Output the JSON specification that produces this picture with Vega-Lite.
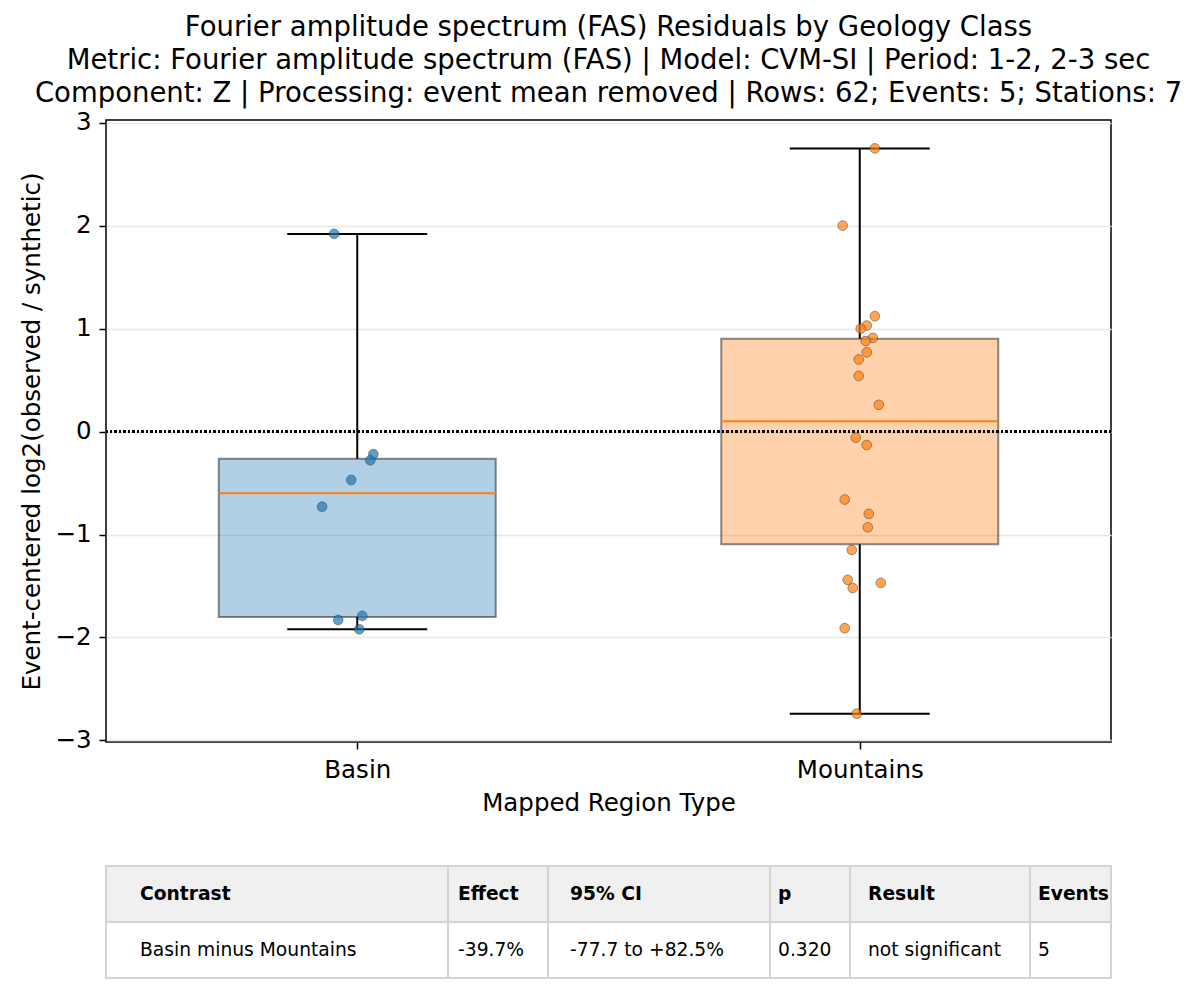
{
  "$schema": "https://vega.github.io/schema/vega-lite/v6.json",
  "background": "white",
  "padding": {"left": 19, "top": 13, "right": 0, "bottom": 0},
  "config": {
    "font": "DejaVu Sans",
    "view": {"stroke": null},
    "axis": {
      "labelFont": "DejaVu Sans",
      "titleFont": "DejaVu Sans",
      "labelFontSize": 24.5,
      "titleFontSize": 24.5,
      "titleFontWeight": "normal",
      "labelColor": "black",
      "titleColor": "black",
      "tickColor": "black",
      "tickWidth": 1.5,
      "tickSize": 7,
      "labelPadding": 8,
      "domain": false
    }
  },
  "datasets": {
    "points": [
      {"region": "Basin", "residual": 1.92, "jitter": -0.046},
      {"region": "Basin", "residual": -0.22, "jitter": 0.032},
      {"region": "Basin", "residual": -0.28, "jitter": 0.026},
      {"region": "Basin", "residual": -0.47, "jitter": -0.012},
      {"region": "Basin", "residual": -0.73, "jitter": -0.070},
      {"region": "Basin", "residual": -1.83, "jitter": -0.038},
      {"region": "Basin", "residual": -1.79, "jitter": 0.010},
      {"region": "Basin", "residual": -1.92, "jitter": 0.004},
      {"region": "Mountains", "residual": 2.75, "jitter": 0.030},
      {"region": "Mountains", "residual": 2.00, "jitter": -0.034},
      {"region": "Mountains", "residual": 1.12, "jitter": 0.030},
      {"region": "Mountains", "residual": 1.03, "jitter": 0.014},
      {"region": "Mountains", "residual": 1.00, "jitter": 0.002},
      {"region": "Mountains", "residual": 0.91, "jitter": 0.026},
      {"region": "Mountains", "residual": 0.88, "jitter": 0.012},
      {"region": "Mountains", "residual": 0.77, "jitter": 0.014},
      {"region": "Mountains", "residual": 0.70, "jitter": -0.002},
      {"region": "Mountains", "residual": 0.54, "jitter": -0.002},
      {"region": "Mountains", "residual": 0.26, "jitter": 0.038},
      {"region": "Mountains", "residual": -0.06, "jitter": -0.008},
      {"region": "Mountains", "residual": -0.13, "jitter": 0.014},
      {"region": "Mountains", "residual": -0.66, "jitter": -0.030},
      {"region": "Mountains", "residual": -0.80, "jitter": 0.018},
      {"region": "Mountains", "residual": -0.93, "jitter": 0.016},
      {"region": "Mountains", "residual": -1.15, "jitter": -0.016},
      {"region": "Mountains", "residual": -1.44, "jitter": -0.024},
      {"region": "Mountains", "residual": -1.52, "jitter": -0.014},
      {"region": "Mountains", "residual": -1.47, "jitter": 0.042},
      {"region": "Mountains", "residual": -1.91, "jitter": -0.030},
      {"region": "Mountains", "residual": -2.74, "jitter": -0.006}
    ],
    "table": [
      {"col": "Contrast", "row": "header", "text": "Contrast"},
      {"col": "Contrast", "row": "body", "text": "Basin minus Mountains"},
      {"col": "Effect", "row": "header", "text": "Effect"},
      {"col": "Effect", "row": "body", "text": "-39.7%"},
      {"col": "CI", "row": "header", "text": "95% CI"},
      {"col": "CI", "row": "body", "text": "-77.7 to +82.5%"},
      {"col": "p", "row": "header", "text": "p"},
      {"col": "p", "row": "body", "text": "0.320"},
      {"col": "Result", "row": "header", "text": "Result"},
      {"col": "Result", "row": "body", "text": "not significant"},
      {"col": "Events", "row": "header", "text": "Events"},
      {"col": "Events", "row": "body", "text": "5"}
    ]
  },
  "spacing": 49,
  "vconcat": [
    {
      "width": 1005,
      "height": 622,
      "view": {"stroke": "black", "strokeWidth": 1.5},
      "title": {
        "text": [
          "Fourier amplitude spectrum (FAS) Residuals by Geology Class",
          "Metric: Fourier amplitude spectrum (FAS) | Model: CVM-SI | Period: 1-2, 2-3 sec",
          "Component: Z | Processing: event mean removed | Rows: 62; Events: 5; Stations: 7"
        ],
        "font": "DejaVu Sans",
        "fontSize": 27.5,
        "fontWeight": "normal",
        "color": "black",
        "anchor": "middle",
        "frame": "group",
        "lineHeight": 33,
        "offset": 2
      },
      "data": {"name": "points"},
      "layer": [
        {
          "transform": [
            {"aggregate": [
              {"op": "q1", "field": "residual", "as": "q1"},
              {"op": "q3", "field": "residual", "as": "q3"}
            ], "groupby": ["region"]}
          ],
          "mark": {"type": "bar", "size": 277, "fillOpacity": 0.35, "stroke": "black", "strokeOpacity": 0.45, "strokeWidth": 2},
          "encoding": {
            "x": {
              "field": "region",
              "type": "nominal",
              "scale": {"type": "point", "padding": 0.5, "domain": ["Basin", "Mountains"]},
              "axis": {"title": "Mapped Region Type", "labelAngle": 0, "labelPadding": 9, "titlePadding": 10, "grid": false}
            },
            "y": {
              "field": "q1",
              "type": "quantitative",
              "scale": {"domain": [-3.015, 3.026], "nice": false, "zero": false},
              "axis": {
                "title": "Event-centered log2(observed / synthetic)",
                "values": [-3, -2, -1, 0, 1, 2, 3],
                "format": "d",
                "grid": true,
                "gridColor": "#e6e6e6",
                "gridWidth": 1.5,
                "titlePadding": 10
              }
            },
            "y2": {"field": "q3"},
            "fill": {"field": "region", "type": "nominal", "scale": {"domain": ["Basin", "Mountains"], "range": ["#1f77b4", "#ff7f0e"]}, "legend": null}
          }
        },
        {
          "transform": [
            {"aggregate": [
              {"op": "q3", "field": "residual", "as": "q3"},
              {"op": "max", "field": "residual", "as": "hi"}
            ], "groupby": ["region"]}
          ],
          "mark": {"type": "rule", "color": "black", "strokeWidth": 2},
          "encoding": {"x": {"field": "region", "type": "nominal"}, "y": {"field": "q3", "type": "quantitative"}, "y2": {"field": "hi"}}
        },
        {
          "transform": [
            {"aggregate": [
              {"op": "q1", "field": "residual", "as": "q1"},
              {"op": "min", "field": "residual", "as": "lo"}
            ], "groupby": ["region"]}
          ],
          "mark": {"type": "rule", "color": "black", "strokeWidth": 2},
          "encoding": {"x": {"field": "region", "type": "nominal"}, "y": {"field": "lo", "type": "quantitative"}, "y2": {"field": "q1"}}
        },
        {
          "transform": [
            {"aggregate": [{"op": "max", "field": "residual", "as": "hi"}], "groupby": ["region"]}
          ],
          "mark": {"type": "tick", "color": "black", "size": 140, "thickness": 2, "opacity": 1},
          "encoding": {"x": {"field": "region", "type": "nominal"}, "y": {"field": "hi", "type": "quantitative"}}
        },
        {
          "transform": [
            {"aggregate": [{"op": "min", "field": "residual", "as": "lo"}], "groupby": ["region"]}
          ],
          "mark": {"type": "tick", "color": "black", "size": 140, "thickness": 2, "opacity": 1},
          "encoding": {"x": {"field": "region", "type": "nominal"}, "y": {"field": "lo", "type": "quantitative"}}
        },
        {
          "transform": [
            {"aggregate": [{"op": "median", "field": "residual", "as": "med"}], "groupby": ["region"]}
          ],
          "mark": {"type": "tick", "color": "#ff7f0e", "size": 277, "thickness": 2, "opacity": 1},
          "encoding": {"x": {"field": "region", "type": "nominal"}, "y": {"field": "med", "type": "quantitative"}}
        },
        {
          "mark": {"type": "rule", "color": "black", "strokeWidth": 1.6, "strokeDash": [2, 2.5]},
          "encoding": {"y": {"datum": 0, "type": "quantitative"}}
        },
        {
          "mark": {"type": "circle", "size": 95, "fillOpacity": 0.7, "stroke": "#333333", "strokeWidth": 0.6, "strokeOpacity": 0.75},
          "encoding": {
            "x": {"field": "region", "type": "nominal"},
            "y": {"field": "residual", "type": "quantitative"},
            "xOffset": {"field": "jitter", "type": "quantitative", "scale": {"domain": [-0.5, 0.5], "range": [-251, 251]}},
            "color": {"field": "region", "type": "nominal", "scale": {"domain": ["Basin", "Mountains"], "range": ["#1f77b4", "#ff7f0e"]}, "legend": null}
          }
        }
      ]
    },
    {
      "spacing": 0,
      "bounds": "flush",
      "hconcat": [
        {"width": 342, "height": 112, "view": {"stroke": null}, "data": {"name": "table"}, "transform": [{"filter": "datum.col === 'Contrast'"}],
         "encoding": {"y": {"field": "row", "type": "nominal", "scale": {"domain": ["header", "body"], "paddingInner": 0, "paddingOuter": 0}, "axis": null}},
         "layer": [
           {"mark": {"type": "rect", "stroke": "#d3d3d3", "strokeWidth": 2}, "encoding": {"fill": {"condition": {"test": "datum.row === 'header'", "value": "#f0f0f0"}, "value": "#ffffff"}}},
           {"transform": [{"filter": "datum.row === 'header'"}], "mark": {"type": "text", "align": "left", "baseline": "middle", "x": 0, "dx": 34, "fontSize": 18.7, "fontWeight": "bold", "color": "black"}, "encoding": {"text": {"field": "text"}}},
           {"transform": [{"filter": "datum.row === 'body'"}], "mark": {"type": "text", "align": "left", "baseline": "middle", "x": 0, "dx": 34, "fontSize": 18.7, "color": "black"}, "encoding": {"text": {"field": "text"}}}
         ]},
        {"width": 100, "height": 112, "view": {"stroke": null}, "data": {"name": "table"}, "transform": [{"filter": "datum.col === 'Effect'"}],
         "encoding": {"y": {"field": "row", "type": "nominal", "scale": {"domain": ["header", "body"], "paddingInner": 0, "paddingOuter": 0}, "axis": null}},
         "layer": [
           {"mark": {"type": "rect", "stroke": "#d3d3d3", "strokeWidth": 2}, "encoding": {"fill": {"condition": {"test": "datum.row === 'header'", "value": "#f0f0f0"}, "value": "#ffffff"}}},
           {"transform": [{"filter": "datum.row === 'header'"}], "mark": {"type": "text", "align": "left", "baseline": "middle", "x": 0, "dx": 10, "fontSize": 18.7, "fontWeight": "bold", "color": "black"}, "encoding": {"text": {"field": "text"}}},
           {"transform": [{"filter": "datum.row === 'body'"}], "mark": {"type": "text", "align": "left", "baseline": "middle", "x": 0, "dx": 10, "fontSize": 18.7, "color": "black"}, "encoding": {"text": {"field": "text"}}}
         ]},
        {"width": 222, "height": 112, "view": {"stroke": null}, "data": {"name": "table"}, "transform": [{"filter": "datum.col === 'CI'"}],
         "encoding": {"y": {"field": "row", "type": "nominal", "scale": {"domain": ["header", "body"], "paddingInner": 0, "paddingOuter": 0}, "axis": null}},
         "layer": [
           {"mark": {"type": "rect", "stroke": "#d3d3d3", "strokeWidth": 2}, "encoding": {"fill": {"condition": {"test": "datum.row === 'header'", "value": "#f0f0f0"}, "value": "#ffffff"}}},
           {"transform": [{"filter": "datum.row === 'header'"}], "mark": {"type": "text", "align": "left", "baseline": "middle", "x": 0, "dx": 22, "fontSize": 18.7, "fontWeight": "bold", "color": "black"}, "encoding": {"text": {"field": "text"}}},
           {"transform": [{"filter": "datum.row === 'body'"}], "mark": {"type": "text", "align": "left", "baseline": "middle", "x": 0, "dx": 22, "fontSize": 18.7, "color": "black"}, "encoding": {"text": {"field": "text"}}}
         ]},
        {"width": 80, "height": 112, "view": {"stroke": null}, "data": {"name": "table"}, "transform": [{"filter": "datum.col === 'p'"}],
         "encoding": {"y": {"field": "row", "type": "nominal", "scale": {"domain": ["header", "body"], "paddingInner": 0, "paddingOuter": 0}, "axis": null}},
         "layer": [
           {"mark": {"type": "rect", "stroke": "#d3d3d3", "strokeWidth": 2}, "encoding": {"fill": {"condition": {"test": "datum.row === 'header'", "value": "#f0f0f0"}, "value": "#ffffff"}}},
           {"transform": [{"filter": "datum.row === 'header'"}], "mark": {"type": "text", "align": "left", "baseline": "middle", "x": 0, "dx": 8, "fontSize": 18.7, "fontWeight": "bold", "color": "black"}, "encoding": {"text": {"field": "text"}}},
           {"transform": [{"filter": "datum.row === 'body'"}], "mark": {"type": "text", "align": "left", "baseline": "middle", "x": 0, "dx": 8, "fontSize": 18.7, "color": "black"}, "encoding": {"text": {"field": "text"}}}
         ]},
        {"width": 180, "height": 112, "view": {"stroke": null}, "data": {"name": "table"}, "transform": [{"filter": "datum.col === 'Result'"}],
         "encoding": {"y": {"field": "row", "type": "nominal", "scale": {"domain": ["header", "body"], "paddingInner": 0, "paddingOuter": 0}, "axis": null}},
         "layer": [
           {"mark": {"type": "rect", "stroke": "#d3d3d3", "strokeWidth": 2}, "encoding": {"fill": {"condition": {"test": "datum.row === 'header'", "value": "#f0f0f0"}, "value": "#ffffff"}}},
           {"transform": [{"filter": "datum.row === 'header'"}], "mark": {"type": "text", "align": "left", "baseline": "middle", "x": 0, "dx": 18, "fontSize": 18.7, "fontWeight": "bold", "color": "black"}, "encoding": {"text": {"field": "text"}}},
           {"transform": [{"filter": "datum.row === 'body'"}], "mark": {"type": "text", "align": "left", "baseline": "middle", "x": 0, "dx": 18, "fontSize": 18.7, "color": "black"}, "encoding": {"text": {"field": "text"}}}
         ]},
        {"width": 81, "height": 112, "view": {"stroke": null}, "data": {"name": "table"}, "transform": [{"filter": "datum.col === 'Events'"}],
         "encoding": {"y": {"field": "row", "type": "nominal", "scale": {"domain": ["header", "body"], "paddingInner": 0, "paddingOuter": 0}, "axis": null}},
         "layer": [
           {"mark": {"type": "rect", "stroke": "#d3d3d3", "strokeWidth": 2}, "encoding": {"fill": {"condition": {"test": "datum.row === 'header'", "value": "#f0f0f0"}, "value": "#ffffff"}}},
           {"transform": [{"filter": "datum.row === 'header'"}], "mark": {"type": "text", "align": "left", "baseline": "middle", "x": 0, "dx": 8, "fontSize": 18.7, "fontWeight": "bold", "color": "black"}, "encoding": {"text": {"field": "text"}}},
           {"transform": [{"filter": "datum.row === 'body'"}], "mark": {"type": "text", "align": "left", "baseline": "middle", "x": 0, "dx": 8, "fontSize": 18.7, "color": "black"}, "encoding": {"text": {"field": "text"}}}
         ]}
      ]
    }
  ]
}
